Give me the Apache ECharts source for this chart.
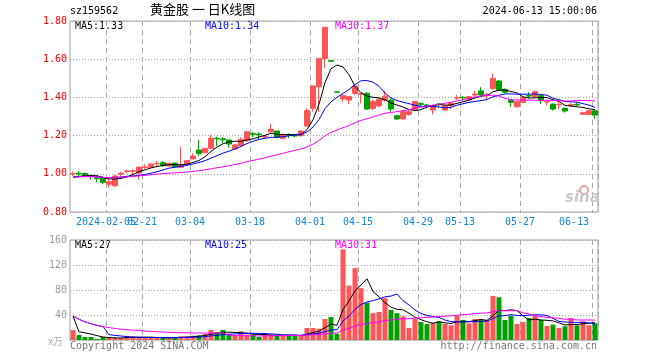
<!DOCTYPE html>
<html><head><meta charset="utf-8">
<script src="https://cdn.jsdelivr.net/npm/echarts/dist/echarts.min.js"></script>
<style>html,body{margin:0;padding:0;background:#fff}#c{width:660px;height:360px}</style>
</head><body><div id="c"></div>
<script>
// ---- data ----
const dates = [
 '2024-01-26','2024-01-29','2024-01-30','2024-01-31','2024-02-01','2024-02-02','2024-02-05','2024-02-06','2024-02-07','2024-02-08',
 '2024-02-19','2024-02-20','2024-02-21','2024-02-22','2024-02-23','2024-02-26','2024-02-27','2024-02-28','2024-02-29','2024-03-01',
 '2024-03-04','2024-03-05','2024-03-06','2024-03-07','2024-03-08','2024-03-11','2024-03-12','2024-03-13','2024-03-14','2024-03-15',
 '2024-03-18','2024-03-19','2024-03-20','2024-03-21','2024-03-22','2024-03-25','2024-03-26','2024-03-27','2024-03-28','2024-03-29',
 '2024-04-01','2024-04-02','2024-04-03','2024-04-08','2024-04-09','2024-04-10','2024-04-11','2024-04-12','2024-04-15','2024-04-16',
 '2024-04-17','2024-04-18','2024-04-19','2024-04-22','2024-04-23','2024-04-24','2024-04-25','2024-04-26','2024-04-29','2024-04-30',
 '2024-05-06','2024-05-07','2024-05-08','2024-05-09','2024-05-10','2024-05-13','2024-05-14','2024-05-15','2024-05-16','2024-05-17',
 '2024-05-20','2024-05-21','2024-05-22','2024-05-23','2024-05-24','2024-05-27','2024-05-28','2024-05-29','2024-05-30','2024-05-31',
 '2024-06-03','2024-06-04','2024-06-05','2024-06-06','2024-06-07','2024-06-11','2024-06-12','2024-06-13'
];
const opens = [
 0.999,1.003,1.001,0.987,0.978,0.977,0.945,0.938,0.997,1.012,
 1.014,1.004,1.033,1.034,1.053,1.058,1.041,1.056,1.034,1.050,
 1.078,1.125,1.111,1.133,1.186,1.183,1.177,1.130,1.147,1.173,
 1.210,1.208,1.193,1.219,1.224,1.186,1.205,1.200,1.200,1.250,
 1.343,1.456,1.604,1.592,1.429,1.392,1.386,1.421,1.417,1.421,
 1.343,1.355,1.386,1.386,1.304,1.287,1.311,1.334,1.367,1.360,
 1.334,1.366,1.334,1.357,1.396,1.401,1.390,1.413,1.434,1.411,
 1.447,1.486,1.442,1.386,1.351,1.374,1.410,1.404,1.409,1.376,
 1.365,1.362,1.343,1.358,1.364,1.311,1.311,1.330
];
const closes = [
 1.001,0.999,0.990,0.985,0.975,0.955,0.959,0.988,1.002,1.015,
 1.016,1.035,1.036,1.051,1.055,1.043,1.055,1.036,1.046,1.069,
 1.093,1.105,1.133,1.186,1.183,1.178,1.156,1.151,1.180,1.220,
 1.207,1.205,1.196,1.233,1.191,1.203,1.202,1.198,1.224,1.331,
 1.460,1.604,1.767,1.589,1.427,1.409,1.404,1.460,1.421,1.339,
 1.378,1.390,1.407,1.339,1.287,1.325,1.325,1.378,1.364,1.357,
 1.357,1.362,1.357,1.369,1.399,1.397,1.404,1.418,1.413,1.415,
 1.500,1.439,1.427,1.374,1.378,1.399,1.407,1.430,1.383,1.378,
 1.339,1.364,1.329,1.362,1.360,1.320,1.330,1.308
];
const highs = [
 1.011,1.014,1.007,0.994,0.987,0.985,0.973,0.994,1.011,1.022,
 1.022,1.037,1.050,1.052,1.067,1.067,1.055,1.060,1.142,1.072,
 1.107,1.177,1.135,1.203,1.194,1.191,1.177,1.156,1.191,1.224,
 1.220,1.217,1.203,1.261,1.224,1.212,1.212,1.208,1.229,1.343,
 1.462,1.606,1.767,1.592,1.429,1.416,1.404,1.465,1.424,1.428,
 1.386,1.395,1.435,1.395,1.309,1.334,1.334,1.381,1.374,1.366,
 1.360,1.369,1.362,1.374,1.413,1.407,1.407,1.434,1.453,1.425,
 1.526,1.491,1.447,1.386,1.378,1.401,1.427,1.435,1.411,1.386,
 1.367,1.374,1.343,1.369,1.374,1.323,1.334,1.334
];
const lows = [
 0.989,0.990,0.983,0.969,0.955,0.945,0.927,0.931,0.987,1.001,
 0.994,0.971,1.025,1.029,1.043,1.036,1.036,1.032,1.032,1.043,
 1.078,1.093,1.108,1.130,1.145,1.160,1.137,1.125,1.142,1.168,
 1.191,1.182,1.182,1.218,1.186,1.180,1.186,1.191,1.194,1.247,
 1.325,1.325,1.552,1.589,1.427,1.378,1.364,1.413,1.369,1.335,
 1.334,1.349,1.378,1.325,1.283,1.285,1.303,1.330,1.352,1.343,
 1.311,1.346,1.330,1.339,1.386,1.383,1.386,1.399,1.404,1.383,
 1.439,1.435,1.421,1.351,1.346,1.374,1.395,1.401,1.365,1.357,
 1.331,1.339,1.320,1.351,1.355,1.311,1.308,1.287
];
const volumes = [
 16,8,4.8,4.8,1.6,4.8,3.2,3.2,3.2,5.9,
 5.9,4.8,3.2,3.2,3.2,3.7,3.2,3.7,5.9,5.9,
 6.9,7.5,9.6,16,12.3,16,8.5,7.5,13.9,8.5,
 8.5,4.8,8.5,8.5,7.5,6.9,6.9,6.9,7.5,19.2,
 19.2,18.1,33.6,36.8,10,145,87,115,83,60,
 43,44.8,67,48,43,37.9,19.2,34,28.8,25.6,
 27.2,29.9,25.6,23.5,39.5,32,26.7,33.6,32.5,32,
 70.4,68.3,32,38.9,25.6,28.8,35.2,38.9,32,22.4,
 24.5,19.2,21.9,35.2,23.5,29.9,23.5,26.7
];
// days before the visible window that still feed the moving averages (estimated from the MA start values)
const priorCloses = [0.975,0.978,0.976,0.980];
const priorVolumes = [133,14,14,14];
const labelDates = ['2024-02-05','2024-02-21','2024-03-04','2024-03-18','2024-04-01','2024-04-15','2024-04-29','2024-05-13','2024-05-27','2024-06-13'];
const priceTicks = {min:0.8, max:1.8, step:0.2};
const volTicks = {min:0, max:160, step:40};
const headerTexts = {code:'sz159562', title:'黄金股 一 日K线图', time:'2024-06-13 15:00:06'};
const priceMaTexts = ['MA5:1.33','MA10:1.34','MA30:1.37'];
const volMaTexts = ['MA5:27','MA10:25','MA30:31'];

// ---- derived ----
function movingAvg(vals, prior, n){
  const all = prior.concat(vals);
  return vals.map((_, j) => {
    const k = prior.length + j, s = Math.max(0, k - n + 1);
    let sum = 0; for (let t = s; t <= k; t++) sum += all[t];
    return +(sum / (k - s + 1)).toFixed(4);
  });
}
const kData = dates.map((d,i)=>[opens[i],closes[i],lows[i],highs[i]]);
const RED='#ff5555', GREEN='#00a000';
const up = dates.map((d,i)=> closes[i]>opens[i] || (closes[i]===opens[i] && (i===0 || closes[i]>=closes[i-1])));
const lineIdx = new Set(labelDates.map(d=>dates.indexOf(d)));
const firstIdx = dates.indexOf(labelDates[0]);
const restIdx = new Set(labelDates.slice(1).map(d=>dates.indexOf(d)));
const mono = 'DejaVu Sans Mono';
const maColors = ['#000000','#0000ff','#ff00ff'];

const labelBase = {color:'#1585d8', fontFamily:mono, fontSize:10, margin:5, padding:[0,6,0,0], hideOverlap:false};
const xAxes = [
  {type:'category', gridIndex:0, data:dates, boundaryGap:true,
   axisLine:{show:false}, axisTick:{show:false},
   axisLabel:Object.assign({show:true, interval:(i)=>restIdx.has(i), alignMaxLabel:'right', formatter:(v)=>v.slice(5)}, labelBase),
   splitLine:{show:true, interval:(i)=>lineIdx.has(i), lineStyle:{color:'#a8a8a8', type:[5,4], width:1}}},
  {type:'category', gridIndex:1, data:dates, boundaryGap:true,
   axisLine:{show:false}, axisTick:{show:false}, axisLabel:{show:false},
   splitLine:{show:true, interval:(i)=>lineIdx.has(i), lineStyle:{color:'#a8a8a8', type:[5,4], width:1}}},
  {type:'category', gridIndex:0, data:dates, boundaryGap:true, position:'bottom',
   axisLine:{show:false}, axisTick:{show:false}, splitLine:{show:false},
   axisLabel:Object.assign({show:true, interval:(i)=>i===firstIdx, formatter:(v)=>v}, labelBase)}
];

const option = {
  animation:false,
  backgroundColor:'#ffffff',
  grid:[
    {left:70, right:62, top:21, height:191, show:true, borderColor:'#a0a0a0', borderWidth:1, backgroundColor:'transparent', outerBoundsMode:'none', containLabel:false},
    {left:70, right:62, top:240, height:100, show:true, borderColor:'#a0a0a0', borderWidth:1, backgroundColor:'transparent', outerBoundsMode:'none', containLabel:false}
  ],
  xAxis:xAxes,
  yAxis:[
    {type:'value', gridIndex:0, min:priceTicks.min, max:priceTicks.max, interval:priceTicks.step,
     axisLine:{show:false}, axisTick:{show:false},
     axisLabel:{color:'#ff0000', fontFamily:mono, fontSize:10, margin:3, formatter:v=>v.toFixed(2)},
     splitLine:{show:true, lineStyle:{color:'#a8a8a8', type:[1,2]}}},
    {type:'value', gridIndex:1, min:volTicks.min, max:volTicks.max, interval:volTicks.step,
     axisLine:{show:false}, axisTick:{show:false},
     axisLabel:{color:'#999999', fontFamily:mono, fontSize:10, margin:3, formatter:v=> v===0 ? '' : String(v)},
     splitLine:{show:true, lineStyle:{color:'#a8a8a8', type:[1,2]}}}
  ],
  series:[
    {type:'candlestick', xAxisIndex:0, yAxisIndex:0, data:kData, barWidth:5,
     itemStyle:{color:RED, color0:GREEN, borderColor:RED, borderColor0:GREEN, borderWidth:1}},
    ...[5,10,30].map((n,k)=>({type:'line', xAxisIndex:0, yAxisIndex:0, data:movingAvg(closes,priorCloses,n),
      showSymbol:false, symbol:'none', lineStyle:{color:maColors[k], width:1}, z:5})),
    {type:'bar', xAxisIndex:1, yAxisIndex:1, data:volumes, barWidth:5,
     itemStyle:{color:(p)=> up[p.dataIndex] ? RED : GREEN}},
    ...[5,10,30].map((n,k)=>({type:'line', xAxisIndex:1, yAxisIndex:1, data:movingAvg(volumes,priorVolumes,n),
      showSymbol:false, symbol:'none', lineStyle:{color:maColors[k], width:1}, z:5}))
  ],
  graphic:[
    {type:'text', left:70, top:6, style:{text:headerTexts.code, font:'10px '+mono, fill:'#000'}},
    {type:'text', left:150, top:3, style:{text:headerTexts.title, font:'13px "Noto Sans CJK SC"', fill:'#000'}},
    {type:'text', right:63, top:6, style:{text:headerTexts.time, font:'10px '+mono, fill:'#000'}},
    {type:'text', left:75, top:21, style:{text:priceMaTexts[0], font:'10px '+mono, fill:maColors[0]}},
    {type:'text', left:205, top:21, style:{text:priceMaTexts[1], font:'10px '+mono, fill:maColors[1]}},
    {type:'text', left:335, top:21, style:{text:priceMaTexts[2], font:'10px '+mono, fill:maColors[2]}},
    {type:'text', left:75, top:240, style:{text:volMaTexts[0], font:'10px '+mono, fill:maColors[0]}},
    {type:'text', left:205, top:240, style:{text:volMaTexts[1], font:'10px '+mono, fill:maColors[1]}},
    {type:'text', left:335, top:240, style:{text:volMaTexts[2], font:'10px '+mono, fill:maColors[2]}},
    {type:'text', left:48, top:336, style:{text:'x万', font:'10px "Noto Sans CJK SC"', fill:'#aaaaaa'}},
    {type:'text', left:70, top:341, style:{text:'Copyright 2024 SINA.COM', font:'10px '+mono, fill:'#777'}},
    {type:'text', right:63, top:341, style:{text:'http://finance.sina.com.cn', font:'10px '+mono, fill:'#777'}},
    {type:'circle', shape:{cx:584, cy:190, r:4}, style:{fill:'none', stroke:'#f5a0a0', lineWidth:2}, z:1},
    {type:'text', left:565, top:191, style:{text:'sina', font:'italic bold 15px "DejaVu Sans"', fill:'#c8c8c8'}, z:1}
  ]
};
const chart = echarts.init(document.getElementById('c'), null, {renderer:'canvas'});
chart.setOption(option);
</script></body></html>
